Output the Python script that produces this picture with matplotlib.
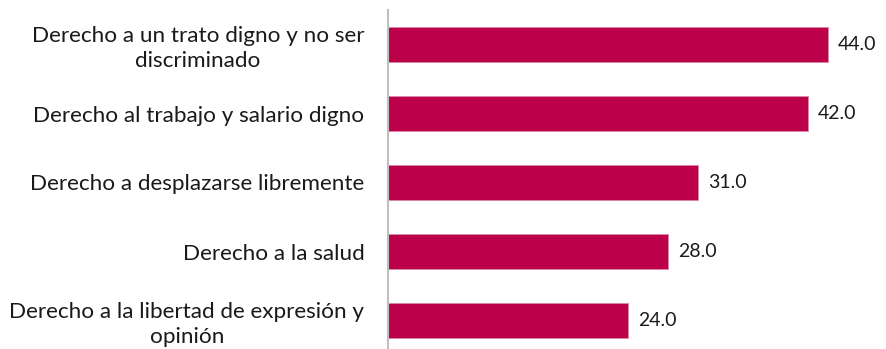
import matplotlib.pyplot as plt

plt.rcParams['font.family'] = ['Lato', 'DejaVu Sans']

labels = [
    "Derecho a un trato digno y no ser\ndiscriminado",
    "Derecho al trabajo y salario digno",
    "Derecho a desplazarse libremente",
    "Derecho a la salud",
    "Derecho a la libertad de expresión y\nopinión",
]
values = [44.0, 42.0, 31.0, 28.0, 24.0]

BAR_COLOR = "#BC0049"

fig = plt.figure(figsize=(8.87, 3.49), dpi=100)
ax = fig.add_axes([388 / 887, 1 - 355 / 349, 1 - 388 / 887, 345 / 349])

pos = range(len(values))
ax.barh(pos, values, height=0.5, color=BAR_COLOR, edgecolor="#D98AA8", linewidth=0.6)
for y, v in zip(pos, values):
    ax.text(v + 1.0, y, f"{v:.1f}", va="center", ha="left", fontsize=14, color="#1a1a1a")

ax.set_xlim(0, 49.9)
ax.set_ylim(4.5, -0.5)
ax.set_yticks(list(pos))
ax.set_yticklabels(labels, fontsize=16.2, color="#1a1a1a", multialignment="center",
                   linespacing=1.3)
ax.tick_params(axis="y", length=0, pad=17)
ax.set_xticks([])

for side in ["top", "right", "bottom"]:
    ax.spines[side].set_visible(False)
ax.spines["left"].set_color("#BFBFBF")
ax.spines["left"].set_linewidth(1.5)

fig.savefig("out.png", dpi=100)
